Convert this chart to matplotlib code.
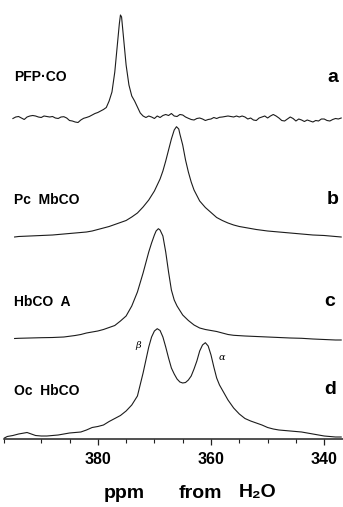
import matplotlib
matplotlib.use("Agg")
import matplotlib.pyplot as plt
import numpy as np

# ---------------- data ----------------
ppm_a = [395, 394.5, 394, 393.5, 393, 392.5, 392, 391.5, 391, 390.5, 390, 389.5, 389, 388.5, 388,
         387.5, 387, 386.5, 386, 385.5, 385, 384.5, 384, 383.5, 383, 382.5, 382, 381.5, 381, 380.5,
         380, 379.5, 379, 378.5, 378, 377.5, 377, 376.5, 376.2, 376, 375.8, 375.5, 375, 374.5, 374,
         373.5, 373, 372.5, 372, 371.5, 371, 370.5, 370, 369.5, 369, 368.5, 368, 367.5, 367, 366.5,
         366, 365.5, 365, 364.5, 364, 363.5, 363, 362.5, 362, 361.5, 361, 360.5, 360, 359.5, 359,
         358.5, 358, 357.5, 357, 356.5, 356, 355.5, 355, 354.5, 354, 353.5, 353, 352.5, 352, 351.5,
         351, 350.5, 350, 349.5, 349, 348.5, 348, 347.5, 347, 346.5, 346, 345.5, 345, 344.5, 344,
         343.5, 343, 342.5, 342, 341.5, 341, 340.5, 340, 339.5, 339, 338.5, 338, 337.5, 337]
int_a = [1.5, 3, 3.5, 2, 0.5, 3, 4, 4.5, 4, 3, 2.5, 4, 3.5, 3, 3.5,
         2, 1.5, 3, 3.3, 2, -0.5, -1, -2, -2.5, 0, 1.7, 2.5, 3.5, 5, 6.5,
         7.5, 9, 10.5, 12.5, 19, 28, 48, 78, 96, 105, 103, 85, 55, 35, 24,
         19, 13, 7, 4, 2.5, 4, 3, 1.5, 4, 2.5, 4.5, 5.5, 4.5, 6.5, 4,
         3.5, 5.5, 5, 3, 1.7, 0.5, 0, 1.5, 2, 1, -0.5, 0.5, 1, 2.5, 1.5,
         2.7, 3, 3.5, 4, 3.5, 3, 4, 3, 4, 3, 1, 2, 0, -0.5, 2,
         3, 4, 2, 4, 5.5, 4, 2, -0.5, -1, 1, 3, 1.5, -1, 1, 0,
         -1.5, 0, -1, -2, -0.5, -1, 1, 1, -0.5, -1, 0.5, 1.5, 1, 2]

ppm_b = [394.7, 394, 392, 390, 388, 386, 384, 382, 381, 380, 379, 378, 377, 376, 375, 374, 373, 372,
         371, 370, 369, 368.5, 368, 367.5, 367, 366.5, 366.1, 365.7, 365.5, 365, 364.5, 364, 363.5,
         363, 362, 361, 360, 359, 358, 357, 356, 355, 354, 352, 350, 348, 346, 344, 342, 340, 338, 337]
int_b = [0, 0.5, 1, 1.5, 2, 3, 4, 5, 6, 7.5, 9, 10.5, 12.5, 14.5, 16.5, 20, 24, 30,
         37, 46, 58, 66, 76, 87, 98, 107, 110.3, 108, 103, 92, 77, 65, 55,
         47, 36, 29.5, 24.5, 19.5, 16.5, 14, 12, 10.5, 9.5, 7.5, 6, 5, 4, 3, 2, 1.5, 0.5, 0]

ppm_c = [394.7, 394, 392, 390, 388, 386, 384, 383, 382, 381, 380, 379, 378, 377, 376, 375, 374, 373,
         372, 371, 370.5, 370, 369.7, 369.3, 369, 368.5, 368, 367.5, 367, 366.5, 366, 365, 364, 363,
         362, 361, 360, 359, 358, 357, 356, 354, 352, 350, 348, 346, 344, 342, 340, 338, 337]
int_c = [-0.5, -0.3, 0, 0.3, 0.5, 1, 2.5, 3.5, 5, 6, 7, 8.5, 10.5, 12.5, 17, 22, 32, 46,
         65, 86, 95, 103, 107, 109.3, 108, 102, 86, 66, 48, 38, 32, 23, 17.5, 13,
         10, 8.5, 7.5, 6.5, 5, 3.5, 2.7, 2, 1.5, 1, 0.5, 0, -0.3, -1, -1.5, -2, -2]

ppm_d = [396.5, 396, 395, 394, 393, 392.5, 392, 391, 390, 389, 388, 387, 386, 385, 384, 383, 382,
         381, 380, 379, 378, 377, 376, 375, 374, 373, 372, 371, 370.5, 370, 369.5, 369, 368.5, 368,
         367.5, 367, 366.5, 366, 365.5, 365, 364.5, 364, 363.5, 363, 362.5, 362, 361.5, 361, 360.5,
         360, 359.5, 359, 358.5, 358, 357, 356, 355, 354, 353, 352, 351, 350, 349, 348, 347, 346,
         345, 344, 343, 342, 341, 340, 339, 338, 337]
int_d = [-1, 0.5, 1.5, 3, 4, 4.5, 3.5, 1.5, 1, 1, 1.5, 2, 3, 4, 4.5, 5, 7,
         9.5, 10.5, 12, 15.5, 18.5, 21.5, 26, 32, 41, 64, 90, 100, 106, 108.3, 106.5, 100, 90,
         79, 69, 63, 58, 55, 54, 54.5, 57, 61, 68, 76, 86, 92, 94.3, 91,
         82, 70, 59, 52, 47, 37, 29, 23, 18.5, 16, 14, 12, 9.5, 8, 7, 6.5, 6,
         5.5, 5, 4, 3, 2, 1, 0.5, 0, 0]

sample_labels = ["PFP·CO", "Pc  MbCO", "HbCO  A", "Oc  HbCO"]
panel_letters = ["a", "b", "c", "d"]
major_ticks = [380, 360, 340]
minor_ticks = [396.5, 390, 385, 375, 370, 365, 355, 350, 345]
xlabel_words = ["ppm", "from", "H₂O"]

# ---------------- layout ----------------
W, H = 343, 507
DPI = 100
baselines = [120, 237, 338, 437]
label_y = [77, 200, 302, 391]
letter_pos = [(333, 77), (333, 200), (330, 302), (330, 390)]
xlabel_x = [124, 200, 258]
AXIS_Y = 439

fig = plt.figure(figsize=(W / DPI, H / DPI), dpi=DPI)
ax = fig.add_axes([0, (H - AXIS_Y) / H, 1, AXIS_Y / H])
ax.patch.set_alpha(0)

x_left = 397.28
x_right = 397.28 - W / 5.66
ax.set_xlim(x_left, x_right)
ax.set_ylim(AXIS_Y, 0)


def fx(px):
    return px / W


def fy(py):
    return 1 - py / H


line_kw = dict(color="#1c1c1c", lw=0.8, clip_on=False)
for ppm, inten, base in zip([ppm_a, ppm_b, ppm_c, ppm_d],
                            [int_a, int_b, int_c, int_d], baselines):
    ax.plot(ppm, base - np.asarray(inten), **line_kw)

for sp in ["top", "left", "right"]:
    ax.spines[sp].set_visible(False)
ax.spines["bottom"].set_bounds(396.6, x_right)
ax.spines["bottom"].set_linewidth(1.1)
ax.spines["bottom"].set_color("#222222")
ax.set_yticks([])
ax.set_xticks(major_ticks)
ax.set_xticks(minor_ticks, minor=True)
ax.tick_params(axis="x", which="major", direction="out", length=4.5, width=0.9,
               color="#222222", pad=5)
ax.tick_params(axis="x", which="minor", direction="out", length=3, width=0.8,
               color="#222222")
for t in ax.get_xticklabels():
    t.set_fontfamily("Liberation Sans")
    t.set_fontweight("bold")
    t.set_fontsize(11.5)

lab_kw = dict(family="Liberation Sans", weight="bold", fontsize=10, va="center", ha="left")
for lab, yy in zip(sample_labels, label_y):
    fig.text(fx(14), fy(yy), lab, **lab_kw)
for let, (xx, yy) in zip(panel_letters, letter_pos):
    fig.text(fx(xx), fy(yy), let, family="Liberation Sans", weight="bold",
             fontsize=14, ha="center", va="center")

fig.text(fx(138), fy(346), "β", family="DejaVu Serif", style="italic", fontsize=7,
         ha="center", va="center")
fig.text(fx(222), fy(357), "α", family="DejaVu Serif", style="italic", fontsize=7,
         ha="center", va="center")

for word, xx in zip(xlabel_words, xlabel_x):
    fig.text(fx(xx), fy(493), word, family=["Liberation Sans", "DejaVu Sans"],
             weight="bold", fontsize=14, ha="center", va="center")

fig.savefig("out.png", dpi=DPI, facecolor="white")
